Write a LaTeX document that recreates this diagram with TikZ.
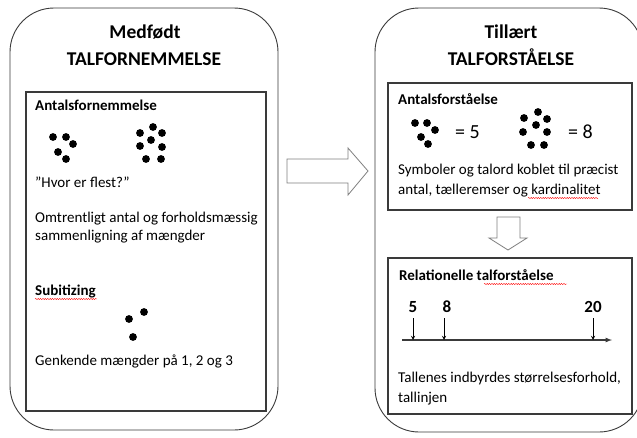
\documentclass[tikz,border=0pt]{standalone}
\usepackage{fontspec}
\setmainfont{Carlito}
\usetikzlibrary{decorations.pathmorphing}
\definecolor{frame}{HTML}{3A3A3A}
\definecolor{arrowgray}{HTML}{7F7F7F}
\tikzset{
  outerbox/.style={draw=frame, line width=0.9pt, rounded corners=44pt},
  innerbox/.style={draw=frame, line width=1.2pt},
  head/.style={font=\fontsize{19.5}{22}\selectfont\bfseries, anchor=base, inner sep=0pt},
  sub/.style={font=\fontsize{15}{17}\selectfont\bfseries, anchor=base west, inner sep=0pt},
  body/.style={font=\fontsize{15}{17}\selectfont, anchor=base west, inner sep=0pt},
  eqn/.style={font=\fontsize{20}{22}\selectfont, anchor=base west, inner sep=0pt},
  num/.style={font=\fontsize{17}{19}\selectfont\bfseries, anchor=base, inner sep=0pt},
  dot/.style={fill=black},
  blockarrow/.style={draw=arrowgray, line width=0.8pt, fill=white},
  spell/.style={draw=red, line width=0.4pt, decorate,
    decoration={snake, amplitude=0.6pt, segment length=2.4pt}}
}

\begin{document}
\begin{tikzpicture}[x=1pt, y=-1pt]
    \useasboundingbox (0,0) rectangle (637,437);
    \clip (0,0) rectangle (637,437);

    % Medfoedt
    \draw[outerbox] (10,8) rectangle (278,430);
    \node[head] (medtitle) at (145,38) {Medfødt};
    \node[head] (medname) at (144,65) {TALFORNEMMELSE};
    \draw[innerbox] (26,92) rectangle (266,411);
    \node[sub] (antal) at (35,110) {Antalsfornemmelse};
    \foreach \p in {(53,137),(66,137),(73,144),(58,152),(66,159)}
        \fill[dot] \p circle (3.9pt);
    \foreach \p in {(153,127),(140,133),(162,133),(151,140),(140,146),(162,147),(146,159),(161,159)}
        \fill[dot] \p circle (3.9pt);
    \node[body] (flest) at (35,187) {”Hvor er flest?”};
    \node[body] (omtr) at (35,222) {Omtrentligt antal og forholdsmæssig};
    \node[body] (samm) at (35,240) {sammenligning af mængder};
    \node[sub] (subit) at (35,295) {Subitizing};
    \draw[spell] (35,299) -- (97,299);
    \foreach \p in {(129,319),(144,312),(133,337)}
        \fill[dot] \p circle (3.9pt);
    \node[body] (genk) at (35,365) {Genkende mængder på 1, 2 og 3};

    % arrow across
    \draw[blockarrow] (287,159) -- (348,159) -- (348,148) -- (368,171)
        -- (348,195) -- (348,183) -- (287,183) -- cycle;

    % Tillaert
    \draw[outerbox] (375,8) rectangle (643,432);
    \node[head] (tiltitle) at (511,38) {Tillært};
    \node[head] (tilname) at (511,65) {TALFORSTÅELSE};
    \draw[innerbox] (388,83) rectangle (632,210);
    \node[sub] (antalf) at (398,104) {Antalsforståelse};
    \foreach \p in {(415,123),(427,123),(435,130),(421,137),(428,144)}
        \fill[dot] \p circle (3.9pt);
    \node[eqn] (fem) at (455,138) {= 5};
    \foreach \p in {(538,112),(524,118),(547,119),(536,125),(523,132),(547,132),(531,145),(544,145)}
        \fill[dot] \p circle (3.9pt);
    \node[eqn] (otte) at (568,138) {= 8};
    \node[body] (symb) at (398,174) {Symboler og talord koblet til præcist};
    \node[body] (kard) at (398,194) {antal, tælleremser og kardinalitet};
    \draw[spell] (528,198) -- (598,198);

    % arrow down
    \draw[blockarrow] (497,217) -- (520,217) -- (520,238) -- (527,238) -- (508,250)
        -- (489,238) -- (497,238) -- cycle;

    \draw[innerbox] (388,258) rectangle (632,414);
    \node[sub] (relat) at (399,280) {Relationelle talforståelse};
    \draw[spell] (484,284) -- (567,284);
    \node[num] (n5) at (413,312) {5};
    \node[num] (n8) at (447,312) {8};
    \node[num] (n20) at (593,312) {20};
    \coordinate (lstart) at (402,340);
    \coordinate (lend) at (612,340);
    \draw[frame, line width=1.2pt, -latex] (lstart) -- (lend);
    \draw[line width=0.9pt, -stealth] ([yshift=-6pt]n5.south) -- (n5 |- lstart);
    \draw[line width=0.9pt, -stealth] ([yshift=-6pt,xshift=-3pt]n8.south) -- ([xshift=-3pt]n8.south |- lstart);
    \draw[line width=0.9pt, -stealth] ([yshift=-6pt]n20.south) -- (n20 |- lstart);
    \node[body] (indb) at (398,382) {Tallenes indbyrdes størrelsesforhold,};
    \node[body] (linje) at (398,402) {tallinjen};
\end{tikzpicture}
\end{document}
